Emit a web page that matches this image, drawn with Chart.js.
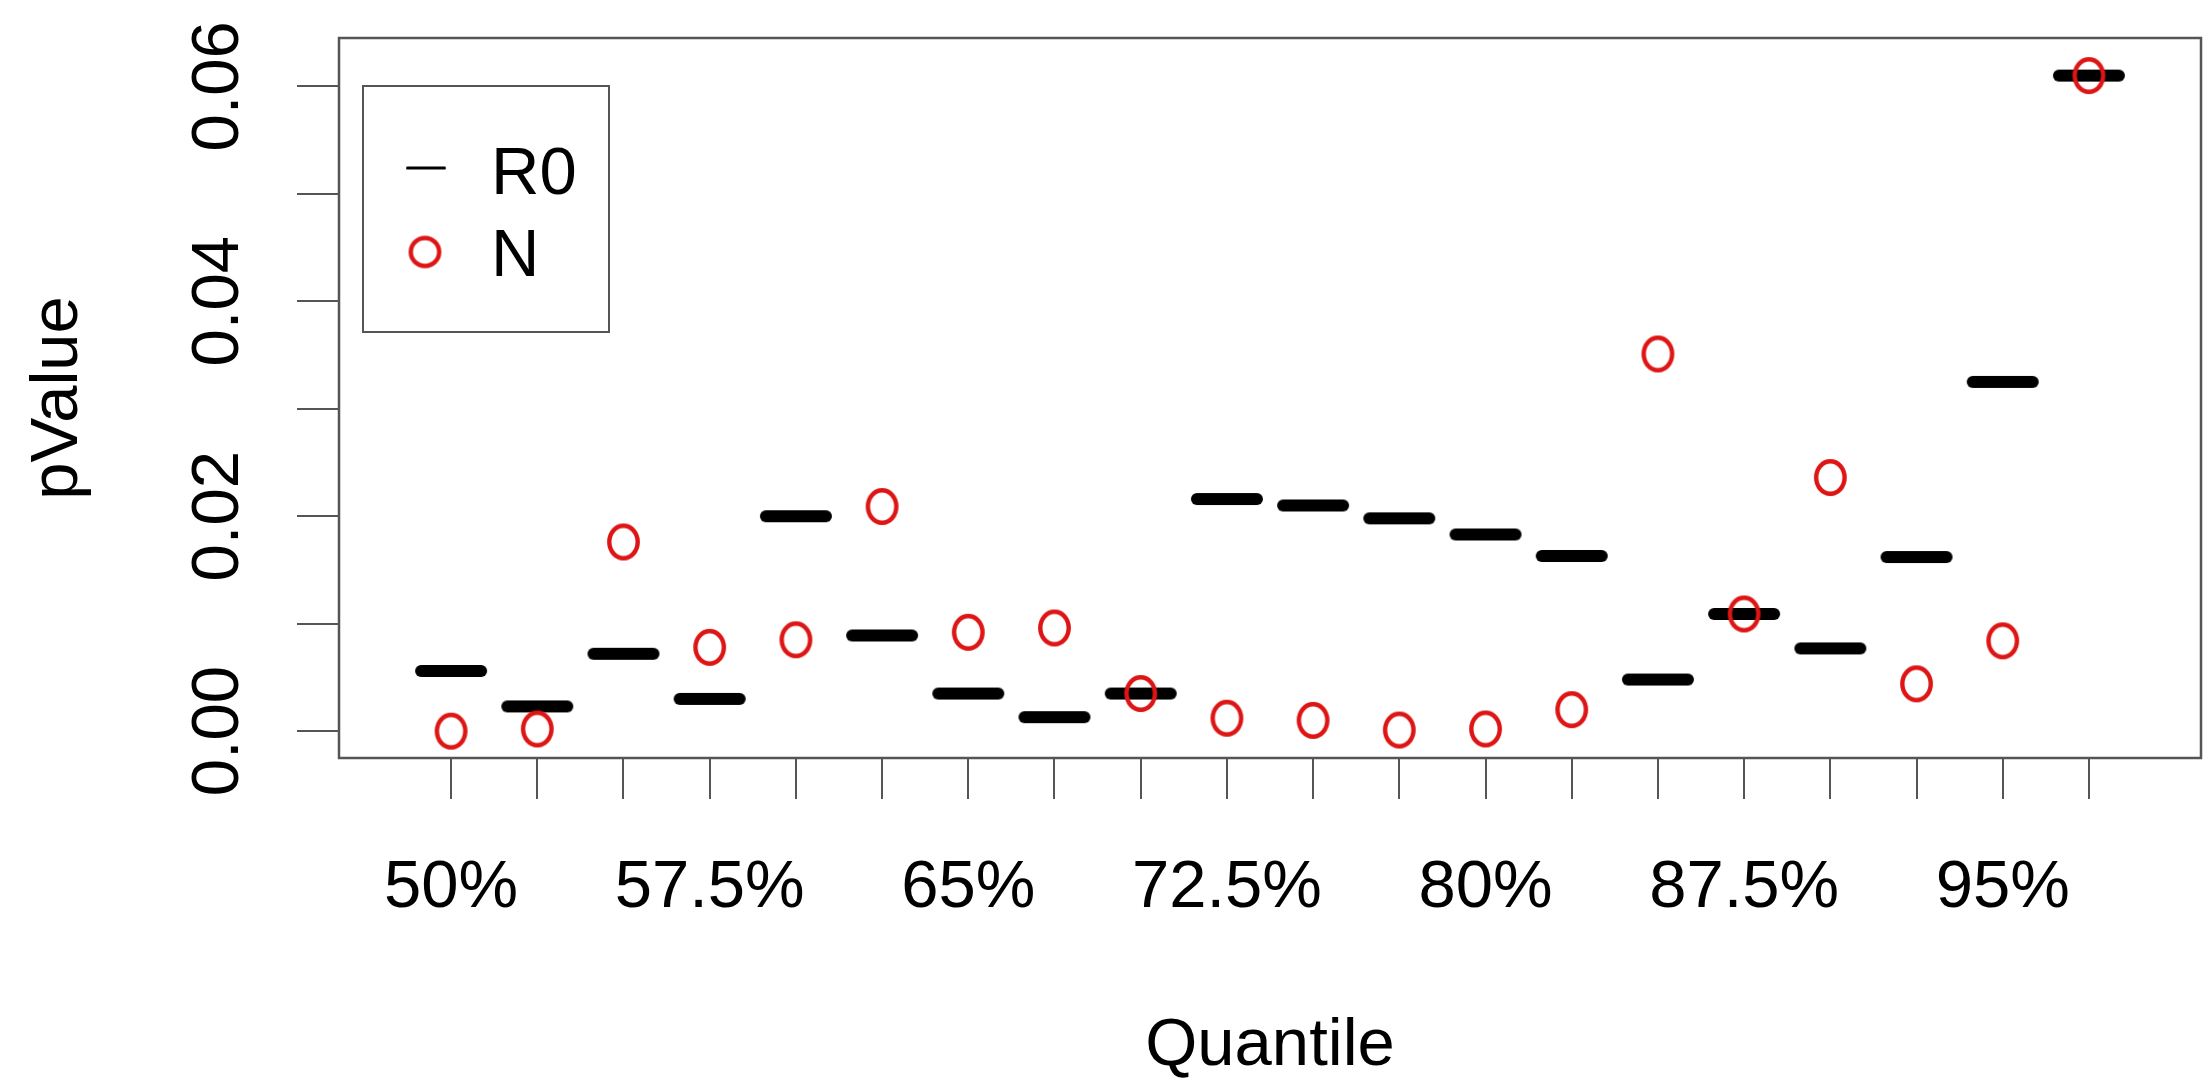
<!DOCTYPE html>
<html>
<head>
<meta charset="utf-8">
<title>pValue by Quantile</title>
<script src="https://cdn.jsdelivr.net/npm/chart.js@4/dist/chart.umd.min.js"></script>
<style>
    html, body { margin: 0; padding: 0; background: #ffffff; }
    #wrap { width: 2206px; height: 1081px; }
</style>
</head>
<body>
<div id="wrap"><canvas id="chart" width="2206" height="1081"></canvas></div>
<script>
// Data
const quantiles = [50, 52.5, 55, 57.5, 60, 62.5, 65, 67.5, 70, 72.5, 75, 77.5, 80, 82.5, 85, 87.5, 90, 92.5, 95, 97.5];
const r0Values = [0.0056, 0.0023, 0.0072, 0.0030, 0.0200, 0.0089, 0.0035, 0.0013, 0.0035, 0.0216,
                  0.0210, 0.0198, 0.0183, 0.0163, 0.0048, 0.0109, 0.0077, 0.0162, 0.0325, 0.0610];
const nValues = [0.0000, 0.0002, 0.0176, 0.0078, 0.0085, 0.0209, 0.0092, 0.0096, 0.0035, 0.0012,
                 0.0010, 0.0001, 0.0002, 0.0020, 0.0351, 0.0109, 0.0236, 0.0044, 0.0084, 0.0610];
const yTicks = [0, 0.01, 0.02, 0.03, 0.04, 0.05, 0.06];
const yTickLabels = ['0.00', '', '0.02', '', '0.04', '', '0.06'];
const xTickLabels = ['50%', '', '', '57.5%', '', '', '65%', '', '', '72.5%', '', '',
                     '80%', '', '', '87.5%', '', '', '95%', ''];

const FONT = '67px "Liberation Sans", Arial, Helvetica, sans-serif';
const AXIS_COLOR = '#555555';
const RED = '#dd1515';

// Point glyphs (R draws pch "-" and "o")
function makeDash(w, h) {
    const c = document.createElement('canvas');
    c.width = w + 4;
    c.height = h + 4;
    const g = c.getContext('2d');
    g.strokeStyle = '#000000';
    g.lineWidth = h;
    g.lineCap = 'round';
    g.beginPath();
    g.moveTo(2 + h / 2, c.height / 2);
    g.lineTo(c.width - 2 - h / 2, c.height / 2);
    g.stroke();
    return c;
}

function makeRing(rx, ry, lw) {
    const c = document.createElement('canvas');
    c.width = Math.ceil(2 * rx + lw + 4);
    c.height = Math.ceil(2 * ry + lw + 4);
    const g = c.getContext('2d');
    g.strokeStyle = RED;
    g.lineWidth = lw;
    g.beginPath();
    g.ellipse(c.width / 2, c.height / 2, rx, ry, 0, 0, Math.PI * 2);
    g.stroke();
    return c;
}

const dashGlyph = makeDash(72, 12);
const ringGlyph = makeRing(14.2, 16.2, 4.4);
const legendDash = makeDash(40, 3);
const legendRing = makeRing(14.2, 14, 4.4);

// Box, axis texts and legend, drawn R style
const decorations = {
    id: 'decorations',
    afterDraw(chart) {
        const ctx = chart.ctx;
        const area = chart.chartArea;
        const xs = chart.scales.x;
        const ys = chart.scales.y;
        ctx.save();

        ctx.strokeStyle = AXIS_COLOR;
        ctx.lineWidth = 2.5;
        ctx.strokeRect(area.left, area.top, area.right - area.left, area.bottom - area.top);

        ctx.fillStyle = '#000000';
        ctx.font = FONT;

        // x tick labels
        ctx.textAlign = 'center';
        ctx.textBaseline = 'alphabetic';
        quantiles.forEach((q, i) => {
            if (xTickLabels[i]) {
                ctx.fillText(xTickLabels[i], xs.getPixelForValue(q), 907);
            }
        });

        // y tick labels, rotated
        yTicks.forEach((v, i) => {
            if (!yTickLabels[i]) return;
            ctx.save();
            ctx.translate(238, ys.getPixelForValue(v));
            ctx.rotate(-Math.PI / 2);
            ctx.fillText(yTickLabels[i], 0, 0);
            ctx.restore();
        });

        // axis titles
        ctx.fillText('Quantile', (area.left + area.right) / 2, 1065);
        ctx.save();
        ctx.translate(77, (area.top + area.bottom) / 2);
        ctx.rotate(-Math.PI / 2);
        ctx.fillText('pValue', 0, 0);
        ctx.restore();

        // legend
        ctx.strokeStyle = AXIS_COLOR;
        ctx.lineWidth = 2;
        ctx.strokeRect(363, 86, 246, 246);
        ctx.drawImage(legendDash, 426 - legendDash.width / 2, 168 - legendDash.height / 2);
        ctx.drawImage(legendRing, 425 - legendRing.width / 2, 252 - legendRing.height / 2);
        ctx.textAlign = 'left';
        ctx.fillText('R0', 491, 194);
        ctx.fillText('N', 491, 276);

        ctx.restore();
    }
};

// Chart
const ctx = document.getElementById('chart').getContext('2d');
new Chart(ctx, {
    type: 'scatter',
    data: {
        datasets: [
            {
                label: 'R0',
                data: quantiles.map((q, i) => ({ x: q, y: r0Values[i] })),
                pointStyle: dashGlyph,
                order: 2
            },
            {
                label: 'N',
                data: quantiles.map((q, i) => ({ x: q, y: nValues[i] })),
                pointStyle: ringGlyph,
                order: 1
            }
        ]
    },
    options: {
        responsive: false,
        animation: false,
        devicePixelRatio: 1,
        layout: {
            padding: { top: 38, right: 2, bottom: 0, left: 0 }
        },
        plugins: {
            legend: { display: false },
            tooltip: { enabled: false }
        },
        scales: {
            x: {
                type: 'linear',
                min: 46.75,
                max: 100.75,
                afterBuildTicks: scale => {
                    scale.ticks = quantiles.map(v => ({ value: v }));
                },
                afterFit: scale => { scale.height = 323; },
                ticks: { display: false },
                border: { display: false },
                grid: {
                    drawOnChartArea: false,
                    drawTicks: true,
                    tickLength: 41,
                    color: AXIS_COLOR,
                    lineWidth: 2
                }
            },
            y: {
                type: 'linear',
                min: -0.0025,
                max: 0.0645,
                afterBuildTicks: scale => {
                    scale.ticks = yTicks.map(v => ({ value: v }));
                },
                afterFit: scale => { scale.width = 339; },
                ticks: { display: false },
                border: { display: false },
                grid: {
                    drawOnChartArea: false,
                    drawTicks: true,
                    tickLength: 42,
                    color: AXIS_COLOR,
                    lineWidth: 2
                }
            }
        }
    },
    plugins: [decorations]
});
</script>
</body>
</html>
